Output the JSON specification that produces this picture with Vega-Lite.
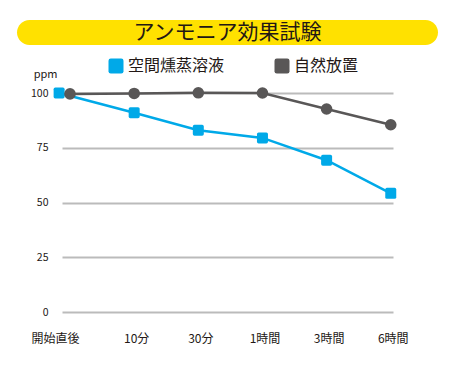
{
  "$schema": "https://vega.github.io/schema/vega-lite/v6.json",
  "padding": {"left": 17, "top": 20, "right": 5, "bottom": 5},
  "config": {
    "font": "Noto Sans CJK JP",
    "view": {"stroke": null}
  },
  "spacing": 48,
  "bounds": "flush",
  "center": true,
  "resolve": {"legend": {"color": "independent"}, "scale": {"color": "independent"}},
  "vconcat": [
    {
      "width": 421,
      "height": 25,
      "view": {"fill": "#ffe100", "cornerRadius": 12.5, "stroke": null},
      "data": {"values": [{"title": "アンモニア効果試験"}]},
      "mark": {"type": "text", "fontSize": 21, "color": "#231815", "baseline": "middle", "align": "center"},
      "encoding": {"text": {"field": "title"}}
    },
    {
      "width": 331,
      "height": 219,
      "data": {
        "values": [
          {"series": "空間燻蒸溶液", "step": "開始直後", "t": -0.17, "value": 100},
          {"series": "空間燻蒸溶液", "step": "10分", "t": 1, "value": 91},
          {"series": "空間燻蒸溶液", "step": "30分", "t": 2, "value": 83},
          {"series": "空間燻蒸溶液", "step": "1時間", "t": 3, "value": 79.5},
          {"series": "空間燻蒸溶液", "step": "3時間", "t": 4, "value": 69.3},
          {"series": "空間燻蒸溶液", "step": "6時間", "t": 5, "value": 54.2},
          {"series": "自然放置", "step": "開始直後", "t": 0, "value": 99.6},
          {"series": "自然放置", "step": "10分", "t": 1, "value": 99.8},
          {"series": "自然放置", "step": "30分", "t": 2, "value": 100.1},
          {"series": "自然放置", "step": "1時間", "t": 3, "value": 100},
          {"series": "自然放置", "step": "3時間", "t": 4, "value": 92.7},
          {"series": "自然放置", "step": "6時間", "t": 5, "value": 85.5}
        ]
      },
      "encoding": {
        "x": {
          "field": "t",
          "type": "quantitative",
          "scale": {"domain": [-0.125, 5.035], "nice": false, "zero": false},
          "axis": {
            "title": null,
            "values": [0, 1, 2, 3, 4, 5],
            "labelExpr": "['開始直後','10分','30分','1時間','3時間','6時間'][datum.value]",
            "grid": false,
            "domain": false,
            "ticks": false,
            "labelPadding": 21,
            "labelFontSize": 12,
            "labelColor": "#231815",
            "labelOffset": {"condition": {"test": "datum.value == 0", "value": -15}, "value": 2}
          }
        },
        "y": {
          "field": "value",
          "type": "quantitative",
          "scale": {"domain": [0, 100], "nice": false},
          "axis": {
            "values": [0, 25, 50, 75, 100],
            "grid": true,
            "gridColor": "#bbbbbb",
            "gridWidth": 2,
            "domain": false,
            "ticks": false,
            "labelPadding": 14,
            "labelFontSize": 10.5,
            "labelColor": "#231815",
            "title": "ppm",
            "titleAngle": 0,
            "titleAlign": "right",
            "titleBaseline": "middle",
            "titleX": -5,
            "titleY": -19,
            "titleFontSize": 11,
            "titleFontWeight": "normal",
            "titleColor": "#231815"
          }
        },
        "color": {
          "field": "series",
          "type": "nominal",
          "scale": {"domain": ["空間燻蒸溶液", "自然放置"], "range": ["#00a9e8", "#595757"]},
          "legend": {
            "orient": "none",
            "legendX": 46,
            "legendY": -35,
            "direction": "horizontal",
            "title": null,
            "padding": 0,
            "labelFontSize": 16,
            "labelColor": "#231815",
            "labelOffset": 4,
            "columnPadding": 49,
            "symbolSize": 225,
            "symbolType": "M-0.7,-1H0.7Q1,-1,1,-0.7V0.7Q1,1,0.7,1H-0.7Q-1,1,-1,0.7V-0.7Q-1,-1,-0.7,-1Z",
            "symbolStrokeWidth": 0,
            "symbolOpacity": 1,
            "labelLimit": 300
          }
        }
      },
      "layer": [
        {
          "mark": {"type": "line", "strokeWidth": 2.5}
        },
        {
          "transform": [{"filter": "datum.series == '空間燻蒸溶液'"}],
          "mark": {
            "type": "point",
            "filled": true,
            "opacity": 1,
            "size": 121,
            "shape": "M-0.7,-1H0.7Q1,-1,1,-0.7V0.7Q1,1,0.7,1H-0.7Q-1,1,-1,0.7V-0.7Q-1,-1,-0.7,-1Z"
          }
        },
        {
          "transform": [{"filter": "datum.series == '自然放置'"}],
          "mark": {"type": "point", "filled": true, "opacity": 1, "size": 135, "shape": "circle"}
        }
      ]
    }
  ]
}
